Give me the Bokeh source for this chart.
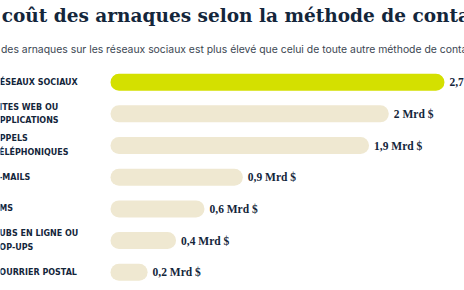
from bokeh.plotting import figure
from bokeh.models import Range1d, ColumnDataSource
from bokeh.core.properties import value
from bokeh.embed import file_html
from bokeh.resources import INLINE

# ---- data ----
categories = ["RÉSEAUX SOCIAUX", "SITES WEB OU\nAPPLICATIONS", "APPELS\nTÉLÉPHONIQUES",
              "E-MAILS", "SMS", "PUBS EN LIGNE OU\nPOP-UPS", "COURRIER POSTAL"]
losses = [2.70, 2.25, 2.09, 1.07, 0.76, 0.53, 0.30]   # Mrd $ (bar lengths as drawn)
value_labels = ["2,7 Mrd $", "2 Mrd $", "1,9 Mrd $", "0,9 Mrd $", "0,6 Mrd $", "0,4 Mrd $", "0,2 Mrd $"]
title_text = "Le coût des arnaques selon la méthode de contact"
subtitle_text = ("Le coût des arnaques sur les réseaux sociaux est plus élevé que celui "
                 "de toute autre méthode de contact")

# ---- layout constants ----
W, H = 464, 290
X0 = 110.0          # pixel where bars start
S = 123.7           # pixels per Mrd $
Y0 = 81.7           # pixel centre of first bar
D = 31.67           # pixels between bars

NAVY = "#14263b"
GREEN = "#d4e000"
BEIGE = "#efe8d1"

colors = [GREEN] + [BEIGE] * (len(categories) - 1)
idx = list(range(len(categories)))

src = ColumnDataSource(dict(y=idx, v=losses, c=colors, cat=categories, lab=value_labels,
                            x0=[0] * len(idx)))

p = figure(width=W, height=H,
           x_range=Range1d(-X0 / S, (W - X0) / S),
           y_range=Range1d((H - Y0) / D, -Y0 / D),
           output_backend="svg", toolbar_location=None, min_border=0)
p.axis.visible = False
p.grid.visible = False
p.outline_line_color = None
p.background_fill_color = "white"
p.border_fill_color = "white"

p.hbar(y="y", left=0, right="v", height=17 / D, fill_color="c", line_color=None,
       border_radius=9, source=src)

p.text(x="v", y="y", text="lab", x_offset=5, text_baseline="middle", text_align="left",
       text_font=value("Liberation Serif"), text_font_style="bold", text_font_size="11.5px",
       text_color=NAVY, source=src)

p.text(x="x0", y="y", text="cat", x_offset=-X0 - 7, text_baseline="middle", text_align="left",
       text_font=value("DejaVu Sans"), text_font_style="bold", text_font_size="8px",
       text_line_height=1.5, text_color=NAVY, source=src)

p.text(x=[0], y=[(15 - Y0) / D], text=[title_text], x_offset=-X0 - 30,
       text_baseline="alphabetic", text_align="left",
       text_font=value("DejaVu Serif"), text_font_style="bold", text_font_size="18.5px",
       text_color=NAVY)

p.text(x=[0], y=[(49 - Y0) / D], text=[subtitle_text], x_offset=-X0 - 39,
       text_baseline="alphabetic", text_align="left",
       text_font=value("Inter"), text_font_size="10.4px",
       text_color="#3b4652")

open("out.html", "w").write(file_html(p, INLINE))
